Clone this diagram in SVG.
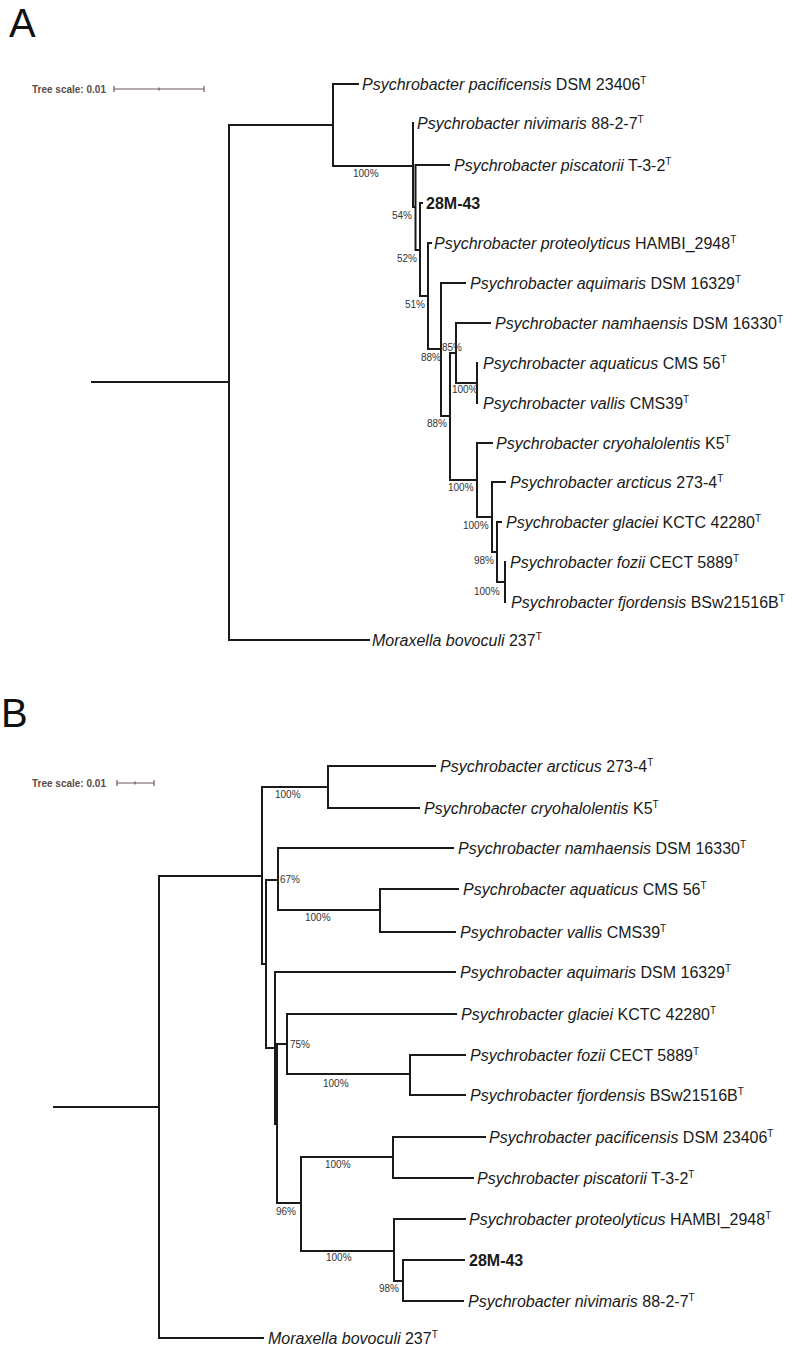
<svg xmlns="http://www.w3.org/2000/svg" width="797" height="1349" viewBox="0 0 797 1349">
<style>
text{font-family:"Liberation Sans",Arial,sans-serif;}
.panel{font-size:40px;fill:#111;}
.scale{font-size:10px;font-weight:bold;fill:#5b4b47;}
.sbar{stroke:#6b5b57;stroke-width:1.2;fill:none;}
.br{stroke:#1a1a1a;stroke-width:2;fill:none;stroke-linecap:square;}
.leaf{font-size:16px;fill:#1a1a1a;}
.sp{font-style:italic;}
.sup{font-size:10px;}
.bold{font-weight:bold;}
.bs{font-size:10px;fill:#333;}
</style>
<rect width="797" height="1349" fill="#ffffff"/>

<!-- Panel A -->
<text class="panel" x="9" y="37">A</text>
<g id="scaleA">
<text class="scale" x="32" y="93">Tree scale: 0.01</text>
<path class="sbar" d="M114,89 H204 M114,86 V92 M204,86 V92 M159,87.5 V90.5"/>
</g>
<g id="connectorsA">
<path class="br" d="M92,382 H229 M229,125 V640 M229,125 H333 M229,640 H369
M333,84 V166 M333,84 H358 M333,166 H413
M413,123 V207 M413,207 H415.5 M415.5,165 V250 M415.5,165 H449 M415.5,250 H420
M420,203 V296 M420,203 H422 M420,296 H428
M428,243 V349 M428,243 H431 M428,349 H441
M441,283 V416 M441,283 H465 M441,416 H450
M450,353 V480 M450,353 H456 M456,323 V383 M456,323 H490 M456,383 H477
M477,363 V403 M450,480 H477 M477,443 V517 M477,443 H492 M477,517 H492
M492,482 V552 M492,482 H505 M492,552 H497 M497,522 V582 M497,522 H501 M497,582 H505
M505,562 V602"/>
</g>
<g id="bootstrapA">
<text class="bs" x="353" y="177">100%</text>
<text class="bs" x="392" y="219">54%</text>
<text class="bs" x="397" y="262">52%</text>
<text class="bs" x="405" y="308">51%</text>
<text class="bs" x="421" y="361">88%</text>
<text class="bs" x="442" y="351">85%</text>
<text class="bs" x="452" y="393">100%</text>
<text class="bs" x="427" y="427">88%</text>
<text class="bs" x="448" y="491">100%</text>
<text class="bs" x="463" y="529">100%</text>
<text class="bs" x="474" y="564">98%</text>
<text class="bs" x="474" y="595">100%</text>
</g>
<g id="A-pacificensis"><text class="leaf" x="362" y="90"><tspan class="sp">Psychrobacter pacificensis</tspan> DSM 23406<tspan class="sup" dy="-6">T</tspan></text></g>
<g id="A-nivimaris"><text class="leaf" x="417" y="129"><tspan class="sp">Psychrobacter nivimaris</tspan> 88-2-7<tspan class="sup" dy="-6">T</tspan></text></g>
<g id="A-piscatorii"><text class="leaf" x="454" y="171"><tspan class="sp">Psychrobacter piscatorii</tspan> T-3-2<tspan class="sup" dy="-6">T</tspan></text></g>
<g id="A-28M-43"><text class="leaf bold" x="426" y="209">28M-43</text></g>
<g id="A-proteolyticus"><text class="leaf" x="434" y="249"><tspan class="sp">Psychrobacter proteolyticus</tspan> HAMBI_2948<tspan class="sup" dy="-6">T</tspan></text></g>
<g id="A-aquimaris"><text class="leaf" x="470" y="289"><tspan class="sp">Psychrobacter aquimaris</tspan> DSM 16329<tspan class="sup" dy="-6">T</tspan></text></g>
<g id="A-namhaensis"><text class="leaf" x="495" y="329"><tspan class="sp">Psychrobacter namhaensis</tspan> DSM 16330<tspan class="sup" dy="-6">T</tspan></text></g>
<g id="A-aquaticus"><text class="leaf" x="483" y="369"><tspan class="sp">Psychrobacter aquaticus</tspan> CMS 56<tspan class="sup" dy="-6">T</tspan></text></g>
<g id="A-vallis"><text class="leaf" x="483" y="409"><tspan class="sp">Psychrobacter vallis</tspan> CMS39<tspan class="sup" dy="-6">T</tspan></text></g>
<g id="A-cryohalolentis"><text class="leaf" x="496" y="449"><tspan class="sp">Psychrobacter cryohalolentis</tspan> K5<tspan class="sup" dy="-6">T</tspan></text></g>
<g id="A-arcticus"><text class="leaf" x="510" y="488"><tspan class="sp">Psychrobacter arcticus</tspan> 273-4<tspan class="sup" dy="-6">T</tspan></text></g>
<g id="A-glaciei"><text class="leaf" x="506" y="528"><tspan class="sp">Psychrobacter glaciei</tspan> KCTC 42280<tspan class="sup" dy="-6">T</tspan></text></g>
<g id="A-fozii"><text class="leaf" x="510" y="568"><tspan class="sp">Psychrobacter fozii</tspan> CECT 5889<tspan class="sup" dy="-6">T</tspan></text></g>
<g id="A-fjordensis"><text class="leaf" x="511" y="608"><tspan class="sp">Psychrobacter fjordensis</tspan> BSw21516B<tspan class="sup" dy="-6">T</tspan></text></g>
<g id="A-moraxella"><text class="leaf" x="372" y="646"><tspan class="sp">Moraxella bovoculi</tspan> 237<tspan class="sup" dy="-6">T</tspan></text></g>

<!-- Panel B -->
<text class="panel" x="1" y="727">B</text>
<g id="scaleB">
<text class="scale" x="32" y="787">Tree scale: 0.01</text>
<path class="sbar" d="M117,783 H154 M117,780 V786 M154,780 V786 M135,781.5 V784.5"/>
</g>
<g id="connectorsB">
<path class="br" d="M54,1107 H159 M159,876 V1338 M159,876 H262 M159,1338 H263
M262,787 V964 M262,787 H328 M328,766 V808 M328,766 H435 M328,808 H419
M262,964 H266 M266,880 V1048 M266,880 H278 M278,848 V910 M278,848 H453 M278,910 H380
M380,889 V932 M380,889 H458 M380,932 H455
M266,1048 H275 M275,972 V1124 M275,972 H455 M275,1124 H277
M277,1044 V1203 M277,1044 H287 M287,1014 V1074 M287,1014 H456 M287,1074 H410
M410,1055 V1095 M410,1055 H465 M410,1095 H465
M277,1203 H301 M301,1157 V1251 M301,1157 H393 M393,1137 V1178 M393,1137 H485 M393,1178 H473
M301,1251 H394 M394,1219 V1281 M394,1219 H465 M394,1281 H403 M403,1260 V1301 M403,1260 H464 M403,1301 H463"/>
</g>
<g id="bootstrapB">
<text class="bs" x="275" y="798">100%</text>
<text class="bs" x="280" y="883">67%</text>
<text class="bs" x="305" y="921">100%</text>
<text class="bs" x="290" y="1048">75%</text>
<text class="bs" x="323" y="1087">100%</text>
<text class="bs" x="325" y="1168">100%</text>
<text class="bs" x="276" y="1215">96%</text>
<text class="bs" x="326" y="1261">100%</text>
<text class="bs" x="379" y="1292">98%</text>
</g>
<g id="B-arcticus"><text class="leaf" x="440" y="772"><tspan class="sp">Psychrobacter arcticus</tspan> 273-4<tspan class="sup" dy="-6">T</tspan></text></g>
<g id="B-cryohalolentis"><text class="leaf" x="424" y="814"><tspan class="sp">Psychrobacter cryohalolentis</tspan> K5<tspan class="sup" dy="-6">T</tspan></text></g>
<g id="B-namhaensis"><text class="leaf" x="458" y="854"><tspan class="sp">Psychrobacter namhaensis</tspan> DSM 16330<tspan class="sup" dy="-6">T</tspan></text></g>
<g id="B-aquaticus"><text class="leaf" x="463" y="895"><tspan class="sp">Psychrobacter aquaticus</tspan> CMS 56<tspan class="sup" dy="-6">T</tspan></text></g>
<g id="B-vallis"><text class="leaf" x="460" y="938"><tspan class="sp">Psychrobacter vallis</tspan> CMS39<tspan class="sup" dy="-6">T</tspan></text></g>
<g id="B-aquimaris"><text class="leaf" x="460" y="978"><tspan class="sp">Psychrobacter aquimaris</tspan> DSM 16329<tspan class="sup" dy="-6">T</tspan></text></g>
<g id="B-glaciei"><text class="leaf" x="461" y="1020"><tspan class="sp">Psychrobacter glaciei</tspan> KCTC 42280<tspan class="sup" dy="-6">T</tspan></text></g>
<g id="B-fozii"><text class="leaf" x="470" y="1061"><tspan class="sp">Psychrobacter fozii</tspan> CECT 5889<tspan class="sup" dy="-6">T</tspan></text></g>
<g id="B-fjordensis"><text class="leaf" x="470" y="1101"><tspan class="sp">Psychrobacter fjordensis</tspan> BSw21516B<tspan class="sup" dy="-6">T</tspan></text></g>
<g id="B-pacificensis"><text class="leaf" x="489" y="1143"><tspan class="sp">Psychrobacter pacificensis</tspan> DSM 23406<tspan class="sup" dy="-6">T</tspan></text></g>
<g id="B-piscatorii"><text class="leaf" x="477" y="1184"><tspan class="sp">Psychrobacter piscatorii</tspan> T-3-2<tspan class="sup" dy="-6">T</tspan></text></g>
<g id="B-proteolyticus"><text class="leaf" x="469" y="1225"><tspan class="sp">Psychrobacter proteolyticus</tspan> HAMBI_2948<tspan class="sup" dy="-6">T</tspan></text></g>
<g id="B-28M-43"><text class="leaf bold" x="469" y="1266">28M-43</text></g>
<g id="B-nivimaris"><text class="leaf" x="468" y="1307"><tspan class="sp">Psychrobacter nivimaris</tspan> 88-2-7<tspan class="sup" dy="-6">T</tspan></text></g>
<g id="B-moraxella"><text class="leaf" x="268" y="1344"><tspan class="sp">Moraxella bovoculi</tspan> 237<tspan class="sup" dy="-6">T</tspan></text></g>
</svg>
